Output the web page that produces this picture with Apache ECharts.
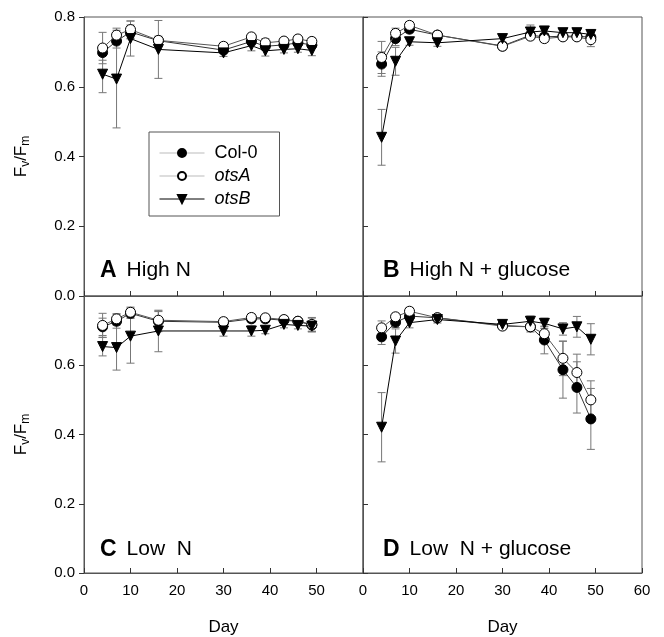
<!DOCTYPE html>
<html>
<head>
<meta charset="utf-8">
<script src="https://cdn.jsdelivr.net/npm/echarts@6/dist/echarts.min.js"></script>
<style>html,body{margin:0;padding:0;background:#fff}#c{width:664px;height:637px}</style>
</head>
<body>
<div id="c"></div>
<script>
// ---- data ----
const days = [4, 7, 10, 16, 30, 36, 39, 43, 46, 49];
const xTicks = [0, 10, 20, 30, 40, 50, 60];
const yTicks = [0.0, 0.2, 0.4, 0.6, 0.8];
const genotypes = ['Col-0', 'otsA', 'otsB'];
const panelNames = ['High N', 'High N + glucose', 'Low  N', 'Low  N + glucose'];
const panelLetters = ['A', 'B', 'C', 'D'];

// Panel A: High N
const col0A = [0.698, 0.731, 0.757, 0.732, 0.705, 0.730, 0.716, 0.720, 0.726, 0.720];
const otsAA = [0.711, 0.748, 0.764, 0.733, 0.716, 0.743, 0.726, 0.731, 0.737, 0.730];
const otsBA = [0.636, 0.622, 0.738, 0.707, 0.697, 0.718, 0.703, 0.707, 0.709, 0.704];
const errCol0A = [0.022, 0.020, 0.020, 0.010, 0.010, 0.010, 0.012, 0.010, 0.010, 0.010];
const errOtsAA = [0.045, 0.020, 0.025, 0.012, 0.010, 0.010, 0.012, 0.010, 0.010, 0.010];
const errOtsBA = [0.053, 0.140, 0.050, 0.083, 0.010, 0.015, 0.015, 0.010, 0.010, 0.015];

// Panel B: High N + glucose
const col0B = [0.665, 0.738, 0.765, 0.748, 0.717, 0.748, 0.743, 0.745, 0.745, 0.742];
const otsAB = [0.684, 0.753, 0.776, 0.748, 0.716, 0.745, 0.738, 0.743, 0.743, 0.735];
const otsBB = [0.455, 0.673, 0.729, 0.726, 0.738, 0.757, 0.760, 0.755, 0.755, 0.750];
const errCol0B = [0.035, 0.020, 0.010, 0.010, 0.010, 0.010, 0.010, 0.010, 0.010, 0.015];
const errOtsAB = [0.046, 0.015, 0.010, 0.010, 0.010, 0.010, 0.010, 0.010, 0.010, 0.020];
const errOtsBB = [0.080, 0.040, 0.010, 0.010, 0.010, 0.020, 0.010, 0.010, 0.010, 0.010];

// Panel C: Low N
const col0C = [0.711, 0.727, 0.750, 0.727, 0.724, 0.734, 0.734, 0.730, 0.727, 0.716];
const otsAC = [0.715, 0.734, 0.753, 0.730, 0.726, 0.738, 0.737, 0.732, 0.727, 0.718];
const otsBC = [0.654, 0.651, 0.684, 0.699, 0.699, 0.699, 0.701, 0.718, 0.715, 0.713];
const errCol0C = [0.025, 0.020, 0.015, 0.030, 0.010, 0.010, 0.010, 0.010, 0.010, 0.020];
const errOtsAC = [0.035, 0.015, 0.015, 0.025, 0.010, 0.010, 0.010, 0.010, 0.010, 0.020];
const errOtsBC = [0.027, 0.065, 0.078, 0.060, 0.015, 0.015, 0.010, 0.010, 0.010, 0.015];

// Panel D: Low N + glucose
const col0D = [0.682, 0.724, 0.742, 0.737, 0.715, 0.711, 0.673, 0.587, 0.536, 0.445];
const otsAD = [0.708, 0.740, 0.756, 0.737, 0.713, 0.711, 0.691, 0.620, 0.579, 0.500];
const otsBD = [0.421, 0.670, 0.723, 0.732, 0.718, 0.727, 0.721, 0.705, 0.711, 0.675];
const errCol0D = [0.022, 0.015, 0.010, 0.010, 0.010, 0.015, 0.040, 0.082, 0.074, 0.088];
const errOtsAD = [0.020, 0.010, 0.010, 0.010, 0.010, 0.010, 0.020, 0.050, 0.053, 0.055];
const errOtsBD = [0.100, 0.035, 0.015, 0.010, 0.010, 0.015, 0.015, 0.018, 0.030, 0.045];

const panelValues = [[col0A, otsAA, otsBA], [col0B, otsAB, otsBB], [col0C, otsAC, otsBC], [col0D, otsAD, otsBD]];
const panelErrors = [[errCol0A, errOtsAA, errOtsBA], [errCol0B, errOtsAB, errOtsBB], [errCol0C, errOtsAC, errOtsBC], [errCol0D, errOtsAD, errOtsBD]];

// ---- styling ----
const FONT = '"Liberation Sans", Arial, sans-serif';
const FRAME = '#555';
const gridPos = [
  { left: 84, top: 17 }, { left: 363, top: 17 },
  { left: 84, top: 296 }, { left: 363, top: 296 }
];
const SIZE = 279;
const lineColors = ['#333', '#555', '#000'];
const symbolDefs = [
  { symbol: 'circle', symbolSize: 10, itemStyle: { color: '#000', borderColor: '#000', borderWidth: 1 } },
  { symbol: 'circle', symbolSize: 10, itemStyle: { color: '#fff', borderColor: '#000', borderWidth: 1 } },
  { symbol: 'triangle', symbolSize: 10, symbolRotate: 180, itemStyle: { color: '#000', borderColor: '#000', borderWidth: 1 } }
];

const grids = gridPos.map(p => ({ left: p.left, top: p.top, width: SIZE, height: SIZE, show: true, borderColor: FRAME, borderWidth: 1, containLabel: false }));

const xAxes = gridPos.map((p, i) => ({
  type: 'value', gridIndex: i, min: xTicks[0], max: xTicks[xTicks.length - 1], interval: 10,
  axisLine: { show: true, onZero: false, lineStyle: { color: FRAME, width: 1 } },
  axisTick: { show: true, inside: true, length: 5, lineStyle: { color: '#333' } },
  axisLabel: { show: i >= 2, showMaxLabel: i === 3, margin: 10, color: '#000', fontSize: 15, fontFamily: FONT },
  splitLine: { show: false },
  name: i >= 2 ? 'Day' : '', nameLocation: 'middle', nameGap: 46,
  nameTextStyle: { fontSize: 17, color: '#000', fontFamily: FONT }
}));

const yAxes = gridPos.map((p, i) => ({
  type: 'value', gridIndex: i, min: yTicks[0], max: yTicks[yTicks.length - 1], interval: 0.2,
  axisLine: { show: true, onZero: false, lineStyle: { color: FRAME, width: 1 } },
  axisTick: { show: true, inside: (i % 2 === 1), length: 5, lineStyle: { color: '#333' } },
  axisLabel: {
    show: i % 2 === 0, showMaxLabel: i === 0, margin: 9, color: '#000', fontSize: 15, fontFamily: FONT,
    formatter: v => v.toFixed(1)
  },
  splitLine: { show: false },
  name: i % 2 === 0 ? 'F{s|v}/F{s|m}' : '', nameLocation: 'middle', nameGap: 52,
  nameTextStyle: {
    fontSize: 17, color: '#000', fontFamily: FONT,
    rich: { s: { fontSize: 12, fontFamily: FONT, color: '#000', padding: [9, 0, 0, 0] } }
  }
}));

function errRender(params, api) {
  const x = api.value(0), y = api.value(1), e = api.value(2);
  const top = api.coord([x, y + e]);
  const bot = api.coord([x, y - e]);
  const w = 4;
  const st = { stroke: '#777', lineWidth: 1 };
  return {
    type: 'group', children: [
      { type: 'line', shape: { x1: top[0], y1: top[1], x2: bot[0], y2: bot[1] }, style: st },
      { type: 'line', shape: { x1: top[0] - w, y1: top[1], x2: top[0] + w, y2: top[1] }, style: st },
      { type: 'line', shape: { x1: bot[0] - w, y1: bot[1], x2: bot[0] + w, y2: bot[1] }, style: st }
    ]
  };
}

const series = [];
panelValues.forEach((vals, pi) => {
  vals.forEach((arr, gi) => {
    series.push(Object.assign({
      type: 'line', name: genotypes[gi], xAxisIndex: pi, yAxisIndex: pi, z: 3 + gi,
      lineStyle: { color: lineColors[gi], width: 1 },
      data: days.map((d, k) => [d, arr[k]]),
      animation: false
    }, symbolDefs[gi]));
  });
  vals.forEach((arr, gi) => {
    series.push({
      type: 'custom', name: 'err ' + genotypes[gi] + ' ' + pi, xAxisIndex: pi, yAxisIndex: pi,
      renderItem: errRender, z: 1, silent: true,
      encode: { x: 0, y: 1 },
      data: days.map((d, k) => [d, arr[k], panelErrors[pi][gi][k]])
    });
  });
});

const titles = panelLetters.map((L, i) => ({
  text: '{b|' + L + '}  {n|' + panelNames[i] + '}',
  left: gridPos[i].left + (i % 2 === 0 ? 16 : 20),
  top: gridPos[i].top + 242,
  padding: 0,
  textStyle: {
    fontWeight: 'normal',
    rich: {
      b: { fontSize: 23, fontWeight: 'bold', color: '#000', fontFamily: FONT },
      n: { fontSize: 21, fontWeight: 'normal', color: '#000', fontFamily: FONT }
    }
  }
}));

const option = {
  animation: false,
  backgroundColor: '#fff',
  textStyle: { fontFamily: FONT },
  grid: grids,
  xAxis: xAxes,
  yAxis: yAxes,
  title: titles,
  legend: {
    orient: 'vertical', left: 149, top: 132,
    padding: [12, 22, 8, 10],
    borderColor: FRAME, borderWidth: 1, backgroundColor: '#fff',
    itemWidth: 45, itemHeight: 10, itemGap: 5,
    selectedMode: false,
    lineStyle: { width: 1 },
    data: [
      { name: 'Col-0', lineStyle: { color: '#bbb', width: 1 } },
      { name: 'otsA', lineStyle: { color: '#bbb', width: 1 } },
      { name: 'otsB', lineStyle: { color: '#000', width: 1 } }
    ],
    formatter: n => n === 'Col-0' ? '{r|' + n + '}' : '{i|' + n + '}',
    textStyle: {
      fontSize: 18, color: '#000', fontFamily: FONT,
      rich: {
        r: { fontSize: 18, color: '#000', fontFamily: FONT, padding: [0, 0, 0, 5] },
        i: { fontSize: 18, color: '#000', fontStyle: 'italic', fontFamily: FONT, padding: [0, 0, 0, 5] }
      }
    }
  },
  series: series
};

const chart = echarts.init(document.getElementById('c'), null, { renderer: 'canvas' });
chart.setOption(option);
</script>
</body>
</html>
